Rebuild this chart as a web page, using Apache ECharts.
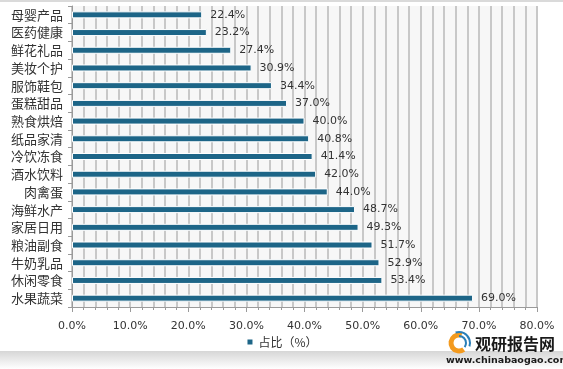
<!DOCTYPE html>
<html>
<head>
<meta charset="utf-8">
<script src="https://cdn.jsdelivr.net/npm/echarts@6/dist/echarts.min.js"></script>
<style>html,body{margin:0;padding:0;background:#fff;}#c{width:563px;height:369px;}</style>
</head>
<body>
<div id="c"></div>
<script>
const categories = ['母婴产品','医药健康','鲜花礼品','美妆个护','服饰鞋包','蛋糕甜品','熟食烘焙','纸品家清','冷饮冻食','酒水饮料','肉禽蛋','海鲜水产','家居日用','粮油副食','牛奶乳品','休闲零食','水果蔬菜'];
const shares = [22.4,23.2,27.4,30.9,34.4,37.0,40.0,40.8,41.4,42.0,44.0,48.7,49.3,51.7,52.9,53.4,69.0];
const seriesName = '占比（%）';
const xMin = 0, xMax = 80, xStep = 10;

const chart = echarts.init(document.getElementById('c'), null, {renderer:'canvas'});
chart.setOption({
  animation:false,
  backgroundColor:'#ffffff',
  grid:{left:72,right:26,top:6,bottom:62,show:true,backgroundColor:'#f7f7f7',borderWidth:0},
  legend:{
    data:[seriesName], left:'center', top:331, itemWidth:7, itemHeight:7, icon:'rect',
    textStyle:{fontFamily:'Noto Sans CJK SC',fontSize:12,color:'#333'}
  },
  xAxis:{
    type:'value', min:xMin, max:xMax, interval:xStep,
    axisLine:{show:true,lineStyle:{color:'#9a9a9a'}},
    axisTick:{show:true,length:5,lineStyle:{color:'#9a9a9a'}},
    minorTick:{show:true,splitNumber:5,length:3,lineStyle:{color:'#9a9a9a'}},
    splitLine:{show:true,lineStyle:{color:'#c8c8c8',width:2}},
    minorSplitLine:{show:true,lineStyle:{color:'#c8c8c8',width:2}},
    axisLabel:{formatter:v=>v.toFixed(1)+'%',fontFamily:'DejaVu Sans',fontSize:11,color:'#333',margin:14}
  },
  yAxis:{
    type:'category', data:categories, inverse:true,
    axisLine:{show:true,lineStyle:{color:'#9a9a9a'}},
    axisTick:{show:true,length:4,lineStyle:{color:'#9a9a9a'}},
    axisLabel:{fontFamily:'Noto Sans CJK SC',fontSize:13,color:'#333',margin:9},
    splitLine:{show:false}
  },
  series:[{
    name:seriesName, type:'bar', data:shares, barWidth:7,
    itemStyle:{color:'#1d6587',borderColor:'#ffffff',borderWidth:1},
    label:{show:true,position:'right',distance:8,formatter:p=>p.value.toFixed(1)+'%',
      fontFamily:'DejaVu Sans',fontSize:11,color:'#333'}
  }],
  graphic:[
    {type:'rect',left:0,top:0,shape:{width:563,height:2},style:{fill:'#dadada'},silent:true},
    {type:'rect',left:0,top:351,shape:{width:563,height:18},z:-1,
      style:{fill:new echarts.graphic.LinearGradient(0,0,0,1,[{offset:0,color:'#d6d6d6'},{offset:1,color:'#ffffff'}])},silent:true},
    {type:'arc',shape:{cx:459,cy:343,r:8,startAngle:Math.PI*0.3,endAngle:Math.PI*1.6},style:{stroke:'#f39a1e',lineWidth:5,fill:null},z:10},
    {type:'arc',shape:{cx:459,cy:343,r:11,startAngle:-Math.PI*0.6,endAngle:Math.PI*0.1},style:{stroke:'#2a7fb8',lineWidth:2,fill:null},z:10},
    {type:'arc',shape:{cx:459,cy:343,r:7,startAngle:-Math.PI*0.5,endAngle:Math.PI*0.2},style:{stroke:'#2a7fb8',lineWidth:2,fill:null},z:10},
    {type:'text',left:475,top:336,style:{text:'观研报告网',font:'bold 16px "Noto Sans CJK SC"',fill:'#1a1a1a'},z:10},
    {type:'text',left:446,top:356,style:{text:'www.chinabaogao.com',font:'bold 9.5px "DejaVu Sans"',fill:'#1a1a1a'},z:10}
  ]
});
</script>
</body>
</html>
